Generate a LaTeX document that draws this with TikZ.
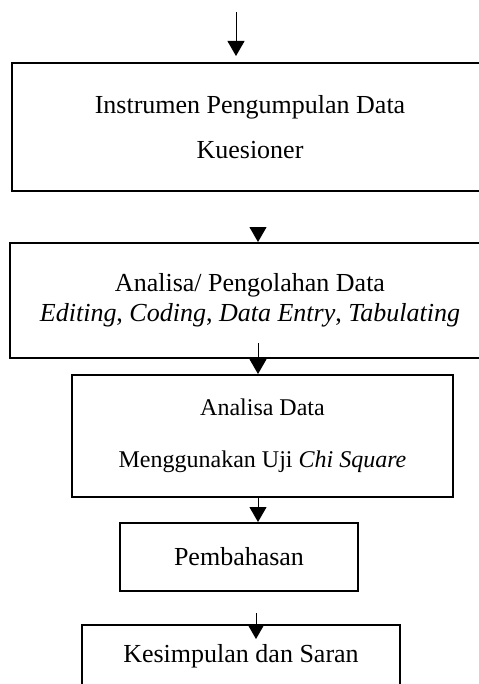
\documentclass[tikz,border=0pt]{standalone}
\usepackage{fontspec}
\setmainfont{Liberation Serif}
\usetikzlibrary{arrows.meta,positioning}

\begin{document}
\begin{tikzpicture}[x=0.5pt, y=-0.5pt,
  every node/.style = {shape=rectangle, draw, line width=1pt,
    align=center, inner sep=0pt, font=\fontsize{13}{15}\selectfont},
  flow/.style = {line width=0.5pt, -{Triangle[width=8.5pt,length=7.5pt]}}]
  \useasboundingbox (0,0) rectangle (478,684);
  \node[minimum width=238pt, minimum height=64pt,
    font=\fontsize{13}{22.5}\selectfont] (instrumen) at (250,127)
    {Instrumen Pengumpulan Data\\Kuesioner};
  \node[minimum width=240pt, minimum height=57.5pt] (olah) at (250,300.5)
    {Analisa/ Pengolahan Data\\\textit{Editing}, \textit{Coding}, \textit{Data Entry}, \textit{Tabulating}};
  \node[minimum width=190.5pt, minimum height=61pt,
    font=\fontsize{12}{26}\selectfont] (uji) at (262.5,436)
    {Analisa Data\\Menggunakan Uji \textit{Chi Square}};
  \node[minimum width=119pt, minimum height=34pt] (bahas) at (239,557)
    {Pembahasan};
  \node[minimum width=159pt, minimum height=31pt] (simpulan) at (241,656)
    {Kesimpulan dan Saran};
  % arrows
  \coordinate (in1) at (236,12);
  \coordinate (in2) at (258,227);
  \coordinate (out2) at (258,343);
  \coordinate (in5) at (256,613);
  \draw[flow, shorten >=3pt] (in1) -- (in1 |- instrumen.north);
  \draw[flow] (in2) -- (in2 |- olah.north);
  \draw[flow] (out2) -- (out2 |- uji.north);
  \draw[flow] (out2 |- uji.south) -- (out2 |- bahas.north);
  \draw[flow, shorten >=-7.5pt] (in5) -- (in5 |- simpulan.north);
\end{tikzpicture}
\end{document}
